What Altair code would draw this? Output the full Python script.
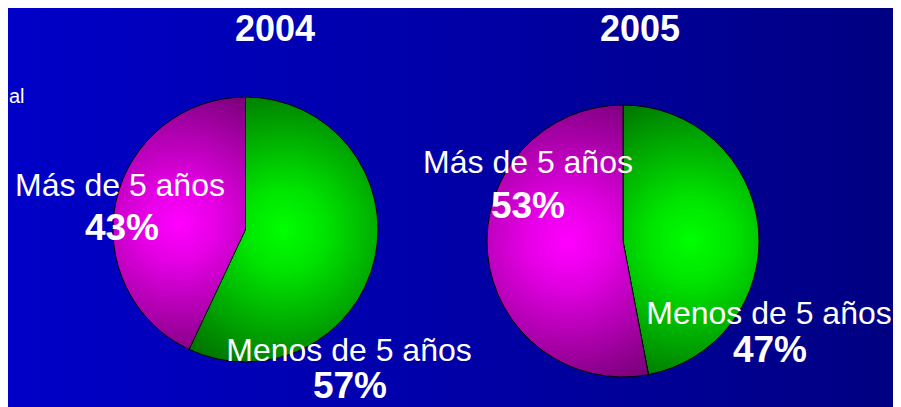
import math
import altair as alt
import pandas as pd

years = ["2004", "2005"]
categories = ["Menos de 5 años", "Más de 5 años"]
pct_2004 = [57, 43]
pct_2005 = [47, 53]
side_text = "al"

rows = []
for y, vals in zip(years, [pct_2004, pct_2005]):
    for i, (c, v) in enumerate(zip(categories, vals)):
        rows.append({"year": y, "cat": c, "value": v, "order": i})
df = pd.DataFrame(rows)

W, H = 885, 399
FONT = "Liberation Sans"

green = alt.RadialGradient(
    gradient="radial",
    stops=[alt.GradientStop(color="#00ff00", offset=0),
           alt.GradientStop(color="#00e400", offset=0.25),
           alt.GradientStop(color="#006400", offset=1)],
    x1=0.5, y1=0.5, r1=0, x2=0.5, y2=0.5, r2=0.62,
)
magenta = alt.RadialGradient(
    gradient="radial",
    stops=[alt.GradientStop(color="#ff00ff", offset=0),
           alt.GradientStop(color="#e400e4", offset=0.25),
           alt.GradientStop(color="#6a006a", offset=1)],
    x1=0.5, y1=0.5, r1=0, x2=0.5, y2=0.5, r2=0.62,
)
grads = {categories[0]: green, categories[1]: magenta}

theta_scale = alt.Scale(domain=[0, 100], range=[0, 2 * math.pi])

bg = alt.Chart(pd.DataFrame({"k": [0]})).mark_rect(
    fill=alt.LinearGradient(
        gradient="linear",
        stops=[alt.GradientStop(color="#0000c8", offset=0),
               alt.GradientStop(color="#0000a8", offset=0.5),
               alt.GradientStop(color="#000082", offset=1)],
        x1=0, y1=0, x2=1, y2=0,
    )
).encode(x=alt.value(0), x2=alt.value(W), y=alt.value(0), y2=alt.value(H))


def pie(year, cx, cy, r):
    out = []
    for cat in categories:
        out.append(
            alt.Chart(df)
            .transform_filter(alt.datum.year == year)
            .transform_window(cum="sum(value)", sort=[alt.SortField("order")], frame=[None, 0])
            .transform_calculate(start="datum.cum - datum.value")
            .transform_filter(alt.datum.cat == cat)
            .mark_arc(fill=grads[cat], filled=True, stroke="black", strokeWidth=1, radius=r)
            .encode(theta=alt.Theta("start:Q", scale=theta_scale), theta2="cum:Q",
                    x=alt.value(cx), y=alt.value(cy))
        )
    return out


def label(year, cat, x, y, size, bold=False, pct=False):
    base = alt.Chart(df).transform_filter(
        (alt.datum.year == year) & (alt.datum.cat == cat)
    ).transform_calculate(pct="datum.value + '%'")
    return base.mark_text(
        font=FONT, fontSize=size, fontWeight="bold" if bold else "normal",
        color="white", align="center", baseline="alphabetic",
    ).encode(text=alt.Text("pct:N" if pct else "cat:N"), x=alt.value(x), y=alt.value(y))


def title(year, x, y):
    return alt.Chart(pd.DataFrame({"year": years})).transform_filter(
        alt.datum.year == year
    ).mark_text(
        font=FONT, fontSize=36, fontWeight="bold", color="white",
        align="center", baseline="alphabetic",
    ).encode(text="year:N", x=alt.value(x), y=alt.value(y))


side = alt.Chart(pd.DataFrame({"t": [side_text]})).mark_text(
    font=FONT, fontSize=20, color="white", align="left", baseline="alphabetic"
).encode(text="t:N", x=alt.value(1), y=alt.value(95))

layers = [bg]
layers += pie("2004", 237.5, 221.5, 132.5)
layers += pie("2005", 615, 233, 136)
layers += [
    title("2004", 267, 33),
    title("2005", 632, 33),
    label("2004", categories[1], 112, 188, 32),
    label("2004", categories[1], 114, 232, 37, bold=True, pct=True),
    label("2004", categories[0], 341, 353, 32),
    label("2004", categories[0], 342, 390, 37, bold=True, pct=True),
    label("2005", categories[1], 520, 165, 32),
    label("2005", categories[1], 520, 210, 37, bold=True, pct=True),
    label("2005", categories[0], 761, 316, 32),
    label("2005", categories[0], 762, 354, 37, bold=True, pct=True),
    side,
]

chart = alt.layer(*layers).properties(
    width=W, height=H, padding=0, autosize="none"
).configure_view(stroke=None)

chart.save("out.html", embed_options={"renderer": "svg", "actions": False})
